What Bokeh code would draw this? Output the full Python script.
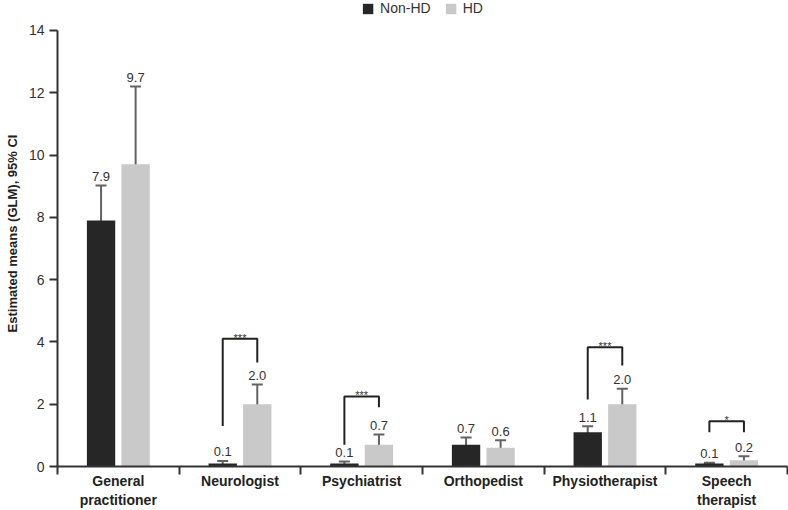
from bokeh.plotting import figure
from bokeh.models import (Range1d, FixedTicker, Whisker, TeeHead, ColumnDataSource,
                          Legend, LegendItem)
from bokeh.core.properties import value
from bokeh.embed import file_html
from bokeh.resources import INLINE

categories = ["General\npractitioner", "Neurologist", "Psychiatrist", "Orthopedist",
              "Physiotherapist", "Speech\ntherapist"]
nonhd_mean = [7.9, 0.1, 0.1, 0.7, 1.1, 0.1]
nonhd_lower = [6.9, 0.05, 0.05, 0.58, 0.9, 0.08]
nonhd_upper = [9.02, 0.18, 0.16, 0.93, 1.29, 0.12]
hd_mean = [9.7, 2.0, 0.7, 0.6, 2.0, 0.2]
hd_lower = [7.72, 1.54, 0.51, 0.39, 1.54, 0.13]
hd_upper = [12.2, 2.63, 1.03, 0.84, 2.5, 0.33]
nonhd_labels = ["7.9", "0.1", "0.1", "0.7", "1.1", "0.1"]
hd_labels = ["9.7", "2.0", "0.7", "0.6", "2.0", "0.2"]

# significance brackets
sig_cat = [1, 2, 4, 5]
sig_top = [4.1, 2.25, 3.83, 1.45]
sig_left_bottom = [1.3, 0.7, 2.15, 1.1]
sig_right_bottom = [3.34, 1.9, 3.24, 1.1]
sig_stars = ["***", "***", "***", "*"]

y_ticks = [0, 2, 4, 6, 8, 10, 12, 14]

DARK = "#262626"
LIGHT = "#c9c9c9"
ERR = "#636363"
TXT = "#333333"
FONT = "Liberation Sans"

OFF = 0.142
BW = 0.233

n = len(categories)
centers = [i + 0.5 for i in range(n)]
x_non = [c - OFF for c in centers]
x_hd = [c + OFF for c in centers]

p = figure(width=788, height=510, output_backend="svg", toolbar_location=None,
           x_range=Range1d(0, n), y_range=Range1d(0, 14.96),
           min_border_left=57, min_border_right=1, min_border_top=0, min_border_bottom=44)
p.outline_line_color = None
p.xgrid.visible = False
p.ygrid.visible = False
p.background_fill_color = "white"

src_non = ColumnDataSource(dict(x=x_non, top=nonhd_mean, lo=nonhd_lower, hi=nonhd_upper,
                                lab=nonhd_labels))
src_hd = ColumnDataSource(dict(x=x_hd, top=hd_mean, lo=hd_lower, hi=hd_upper, lab=hd_labels))

r_non = p.vbar(x="x", top="top", bottom=0, width=BW, source=src_non,
               fill_color=DARK, line_color=None)
r_hd = p.vbar(x="x", top="top", bottom=0, width=BW, source=src_hd,
              fill_color=LIGHT, line_color=None)

for src in (src_non, src_hd):
    w = Whisker(source=src, base="x", upper="hi", lower="lo", dimension="height",
                line_color=ERR, line_width=2,
                upper_head=TeeHead(size=11, line_color=ERR, line_width=2),
                lower_head=TeeHead(size=11, line_color=ERR, line_width=2))
    p.add_layout(w)
    p.text(x="x", y="hi", text="lab", source=src, text_align="center",
           text_baseline="alphabetic", y_offset=-9, text_font=value(FONT),
           text_font_size="13px", text_color=TXT)

# brackets
bx, by = [], []
sx, sy = [], []
for c, t, lb, rb in zip(sig_cat, sig_top, sig_left_bottom, sig_right_bottom):
    xl = c + 0.5 - OFF
    xr = c + 0.5 + OFF
    bx.append([xl, xl, xr, xr])
    by.append([lb, t, t, rb])
    sx.append(c + 0.5)
    sy.append(t)
p.multi_line(xs=bx, ys=by, line_color="#222222", line_width=2)
p.text(x=sx, y=sy, text=sig_stars, text_align="center", text_baseline="alphabetic",
       y_offset=-1, text_font=value(FONT), text_font_size="11px", text_color="#333333")

# y axis
ya = p.yaxis[0]
ya.ticker = FixedTicker(ticks=y_ticks)
ya.bounds = (0, 14)
ya.axis_line_width = 2
ya.axis_line_color = "#333333"
ya.major_tick_line_width = 2
ya.major_tick_line_color = "#333333"
ya.major_tick_out = 8
ya.major_tick_in = 0
ya.minor_tick_line_color = None
ya.major_label_text_font = FONT
ya.major_label_text_font_size = "14px"
ya.major_label_text_color = TXT
ya.major_label_standoff = 5
ya.axis_label = "Estimated means (GLM), 95% CI"
ya.axis_label_text_font = FONT
ya.axis_label_text_font_size = "13px"
ya.axis_label_text_font_style = "bold"
ya.axis_label_text_color = "#222222"
ya.axis_label_standoff = 6

# x axis
xa = p.xaxis[0]
xa.ticker = FixedTicker(ticks=centers, minor_ticks=list(range(n + 1)))
xa.major_label_overrides = {c: lab for c, lab in zip(centers, categories)}
xa.axis_line_width = 2
xa.axis_line_color = "#333333"
xa.major_tick_line_color = None
xa.major_tick_out = 8
xa.major_tick_in = 0
xa.minor_tick_line_color = "#333333"
xa.minor_tick_line_width = 2
xa.minor_tick_out = 8
xa.minor_tick_in = 0
xa.major_label_text_font = FONT
xa.major_label_text_font_size = "14px"
xa.major_label_text_font_style = "bold"
xa.major_label_text_color = "#222222"
xa.major_label_standoff = -2

legend = Legend(items=[LegendItem(label="Non-HD", renderers=[r_non]),
                       LegendItem(label="HD", renderers=[r_hd])],
                orientation="horizontal", location="top_center",
                glyph_width=13, glyph_height=13, label_standoff=6, spacing=13,
                label_text_font=FONT, label_text_font_size="14px", label_text_color=TXT,
                label_height=13, padding=0, margin=0,
                border_line_color=None, background_fill_alpha=0)
p.add_layout(legend)

open("out.html", "w").write(file_html(p, INLINE))
